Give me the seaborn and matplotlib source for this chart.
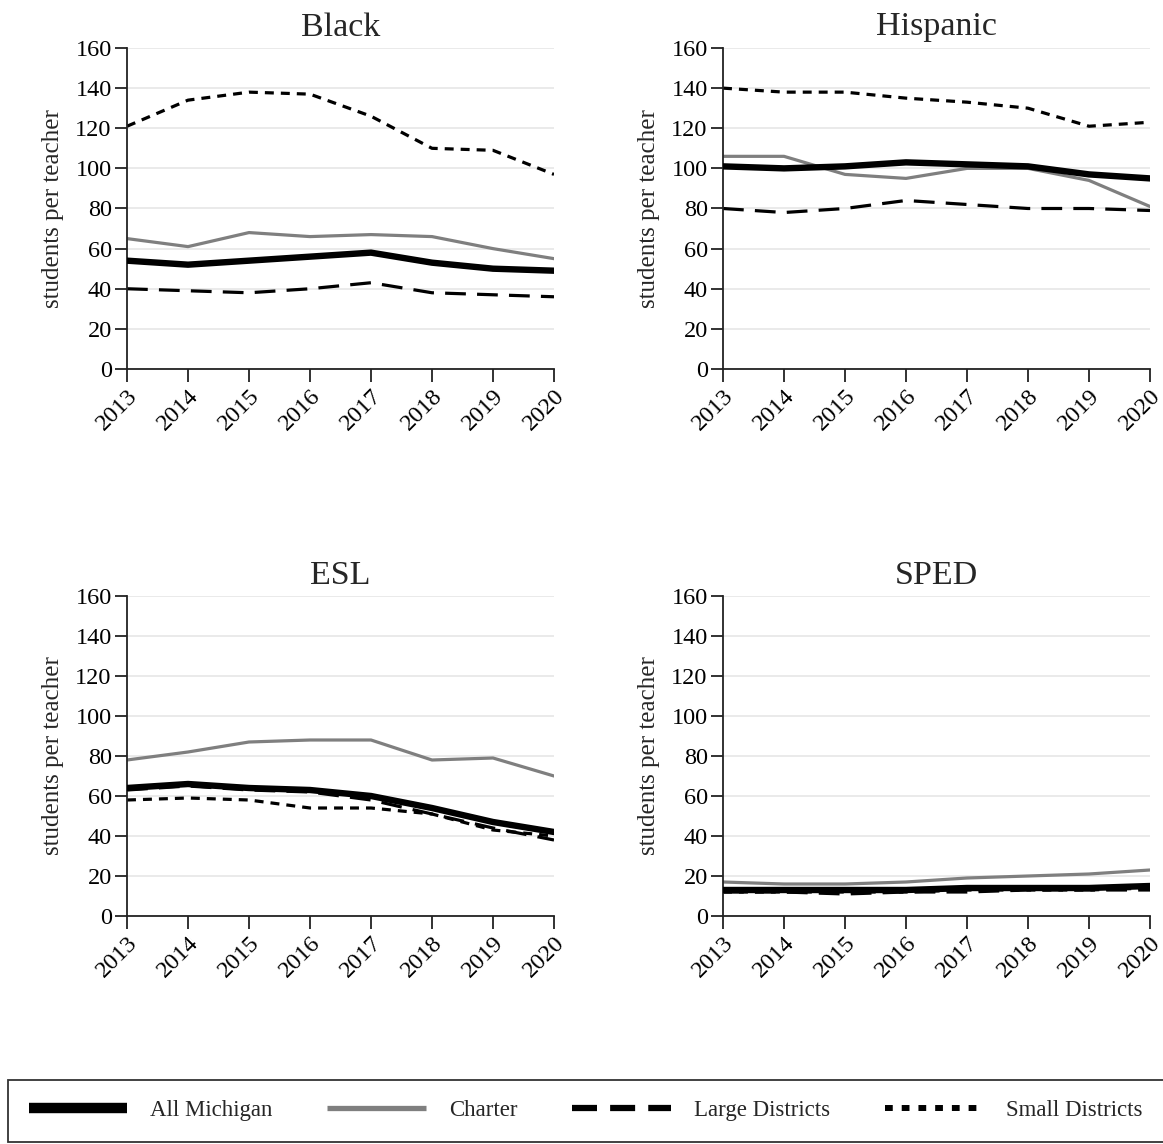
import matplotlib
matplotlib.use("Agg")
import matplotlib.pyplot as plt
import seaborn as sns
import pandas as pd
from matplotlib.lines import Line2D

sns.set_theme(style="white")
plt.rcParams['font.family'] = ['Liberation Serif', 'DejaVu Serif']

years = [2013, 2014, 2015, 2016, 2017, 2018, 2019, 2020]
panels = ["Black", "Hispanic", "ESL", "SPED"]
series = ["All Michigan", "Charter", "Large Districts", "Small Districts"]

black_all = [54, 52, 54, 56, 58, 53, 50, 49]
black_charter = [65, 61, 68, 66, 67, 66, 60, 55]
black_large = [40, 39, 38, 40, 43, 38, 37, 36]
black_small = [121, 134, 138, 137, 126, 110, 109, 97]

hisp_all = [101, 100, 101, 103, 102, 101, 97, 95]
hisp_charter = [106, 106, 97, 95, 100, 100, 94, 81]
hisp_large = [80, 78, 80, 84, 82, 80, 80, 79]
hisp_small = [140, 138, 138, 135, 133, 130, 121, 123]

esl_all = [64, 66, 64, 63, 60, 54, 47, 42]
esl_charter = [78, 82, 87, 88, 88, 78, 79, 70]
esl_large = [63, 65, 63, 62, 58, 51, 44, 38]
esl_small = [58, 59, 58, 54, 54, 51, 43, 40]

sped_all = [13, 13, 13, 13, 14, 14, 14, 15]
sped_charter = [17, 16, 16, 17, 19, 20, 21, 23]
sped_large = [12, 12, 11, 12, 12, 13, 13, 13]
sped_small = [12, 12, 12, 12, 13, 13, 13, 14]

data = {
    "Black": [black_all, black_charter, black_large, black_small],
    "Hispanic": [hisp_all, hisp_charter, hisp_large, hisp_small],
    "ESL": [esl_all, esl_charter, esl_large, esl_small],
    "SPED": [sped_all, sped_charter, sped_large, sped_small],
}

rows = []
for p in panels:
    for s, vals in zip(series, data[p]):
        for y, v in zip(years, vals):
            rows.append({"panel": p, "series": s, "year": y, "value": v})
df = pd.DataFrame(rows)

styles = {
    "All Michigan": dict(color="black", lw=4.6, ls="-"),
    "Charter": dict(color="#7f7f7f", lw=2.3, ls="-"),
    "Large Districts": dict(color="black", lw=2.3, ls=(0, (6.5, 3.5))),
    "Small Districts": dict(color="black", lw=2.3, ls=(0, (2.8, 2.2))),
}

fig = plt.figure(figsize=(11.63, 11.44), dpi=100)
W, H = 1163, 1144
pos = {
    "Black": (127, 48, 554, 369),
    "Hispanic": (723, 48, 1150, 369),
    "ESL": (127, 596, 554, 916),
    "SPED": (723, 596, 1150, 916),
}
order = ["Large Districts", "Small Districts", "Charter", "All Michigan"]
for p in panels:
    l, t, r, b = pos[p]
    ax = fig.add_axes([l / W, 1 - b / H, (r - l) / W, (b - t) / H])
    sub = df[df.panel == p]
    for s in order:
        st = styles[s]
        sns.lineplot(data=sub[sub.series == s], x="year", y="value", ax=ax,
                     color=st["color"], linewidth=st["lw"], linestyle=st["ls"],
                     legend=False, zorder=3 if s == "All Michigan" else 2)
    ax.set_xlim(2013, 2020)
    ax.set_ylim(0, 160)
    ax.set_yticks(range(0, 161, 20))
    ax.set_xticks(years)
    ax.set_xticklabels([str(y) for y in years], rotation=45, ha="right",
                       rotation_mode="anchor", fontsize=17.5)
    ax.tick_params(axis="y", labelsize=17.5, left=True, length=9, width=1.3, color="#222222", pad=2)
    ax.tick_params(axis="x", bottom=True, length=9, width=1.3, color="#222222", pad=3)
    ax.yaxis.grid(True, color="#e8e8e8", linewidth=1.3)
    ax.xaxis.grid(False)
    for sp in ["top", "right"]:
        ax.spines[sp].set_visible(False)
    for sp in ["left", "bottom"]:
        ax.spines[sp].set_color("#222222")
        ax.spines[sp].set_linewidth(1.3)
    ax.set_xlabel("")
    ax.set_ylabel("students per teacher", fontsize=18, labelpad=8)
    ax.set_title(p, fontsize=24.5, pad=9)
    for lab in ax.get_xticklabels() + ax.get_yticklabels():
        lab.set_color("black")

hw = {"All Michigan": 7.5, "Charter": 3.8, "Large Districts": 4.5, "Small Districts": 4.3}
hls = {"All Michigan": "-", "Charter": "-", "Large Districts": (0, (4.0, 2.1)),
       "Small Districts": (0, (1.3, 1.5))}
handles = [Line2D([0], [0], color=styles[s]["color"], lw=hw[s], ls=hls[s],
                  solid_capstyle="butt", dash_capstyle="butt") for s in series]
leg = fig.legend(handles, series, loc="lower left", bbox_to_anchor=(8 / W, 2 / H),
                 ncol=4, fontsize=16.5, frameon=True, fancybox=False,
                 edgecolor="black", handlelength=4.3, handletextpad=1.0,
                 columnspacing=2.4, borderpad=0.9, borderaxespad=0)
leg.get_frame().set_linewidth(1.3)

fig.savefig("out.png", dpi=100, facecolor="white")
